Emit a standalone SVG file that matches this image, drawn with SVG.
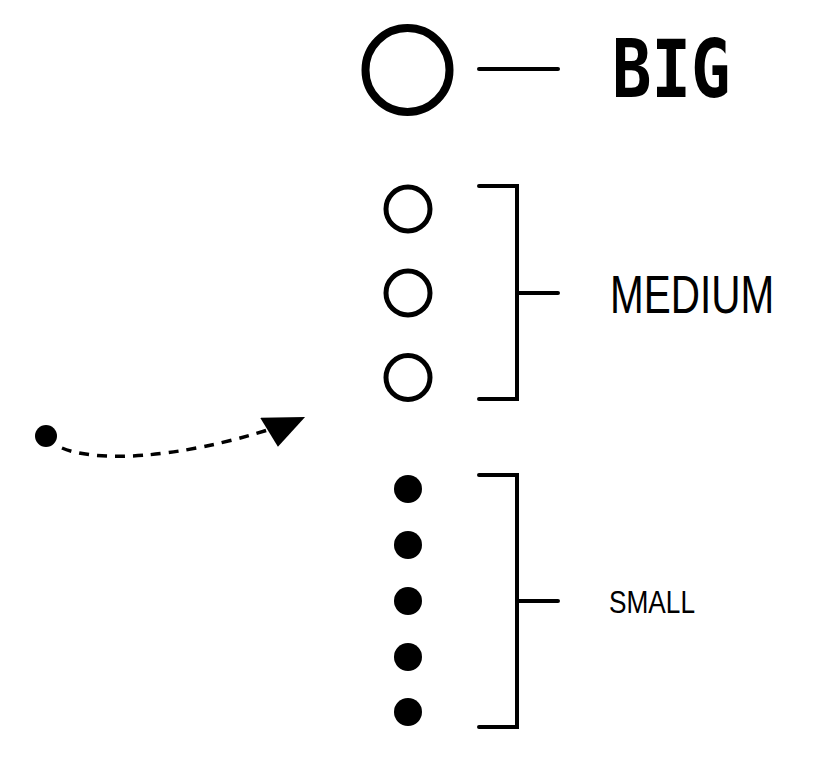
<svg xmlns="http://www.w3.org/2000/svg" width="818" height="768" viewBox="0 0 818 768">
<style>
.ln{stroke:#000;stroke-width:4;stroke-linecap:round;fill:none}
.ring{fill:none;stroke:#000}
.dot{fill:#000}
.lbl{font-family:"Liberation Sans",Arial,sans-serif;fill:#000}
.mono{font-family:"DejaVu Sans Mono",monospace;font-weight:bold;fill:#000}
</style>
<defs>
<marker id="ah" viewBox="0 0 45 35" refX="10" refY="14" markerWidth="45" markerHeight="35" markerUnits="userSpaceOnUse" orient="auto">
<path d="M0 0 L43 13 L8 33 Z" fill="#000"/>
</marker>
</defs>
<rect width="818" height="768" fill="#fff"/>
<g id="big">
<circle class="ring" cx="407.5" cy="70" r="42" stroke-width="8"/>
<text class="mono" transform="translate(612,97) scale(0.82,1)" x="0" y="0" font-size="80">BIG</text>
</g>
<g id="medium">
<circle class="ring" cx="408" cy="209" r="22" stroke-width="5"/>
<circle class="ring" cx="408" cy="293" r="22" stroke-width="5"/>
<circle class="ring" cx="408" cy="377.5" r="22" stroke-width="5"/>
<text class="lbl" transform="translate(610,313) scale(0.75,1)" x="0" y="0" font-size="54">MEDIUM</text>
</g>
<g id="small">
<circle class="dot" cx="408" cy="489" r="14"/>
<circle class="dot" cx="408" cy="545" r="14"/>
<circle class="dot" cx="408" cy="601" r="14"/>
<circle class="dot" cx="408" cy="657" r="14"/>
<circle class="dot" cx="408" cy="712" r="14"/>
<text class="lbl" transform="translate(609,613) scale(0.82,1)" x="0" y="0" font-size="32">SMALL</text>
</g>
<g id="start">
<circle class="dot" cx="46" cy="436" r="11"/>
</g>
<g id="connectors">
<line class="ln" x1="479" y1="69" x2="558" y2="69"/>
<path class="ln" d="M479 186 H517 V399 H479 M517 293 H558"/>
<path class="ln" d="M479 475 H517 V727 H479 M517 601 H558"/>
<path d="M62 448 C95 462 175 460 274 428" fill="none" stroke="#000" stroke-width="3.5" stroke-dasharray="10 8" marker-end="url(#ah)"/>
</g>
</svg>
